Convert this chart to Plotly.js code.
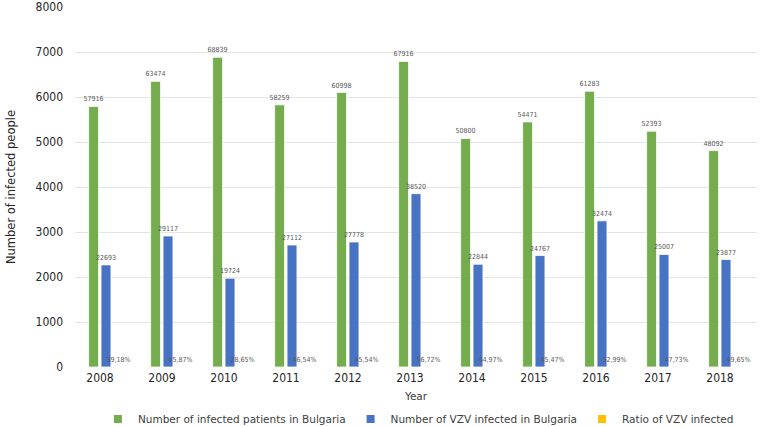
<!DOCTYPE html>
<html>
<head>
<meta charset="utf-8">
<script src="https://cdn.plot.ly/plotly-3.0.1.min.js"></script>
<style>html,body{margin:0;padding:0;background:#fff;}#chart{width:771px;height:427px;}</style>
</head>
<body>
<div id="chart"></div>
<script>
var years = ['2008','2009','2010','2011','2012','2013','2014','2015','2016','2017','2018'];
var patients = [57916, 63474, 68839, 58259, 60998, 67916, 50800, 54471, 61283, 52393, 48092];
var vzv = [22693, 29117, 19724, 27112, 27778, 38520, 22844, 24767, 32474, 25007, 23877];
var ratio = [39.18, 45.87, 28.65, 46.54, 45.54, 56.72, 44.97, 45.47, 52.99, 47.73, 49.65];
var yTicks = [0, 1000, 2000, 3000, 4000, 5000, 6000, 7000, 8000];

var COND = 'DejaVu Sans Condensed, DejaVu Sans, sans-serif';
var REG = 'DejaVu Sans, Verdana, sans-serif';
var green = '#74AC4E', blue = '#4872C3', yellow = '#FFC000';
var labelFont = {family: COND, size: 7, color: '#595959'};

function bar(name, vals, scale, color, texts) {
  return {
    type: 'bar', name: name, x: years,
    y: vals.map(function(v){ return v / scale; }),
    text: texts, textposition: 'outside', textfont: labelFont,
    constraintext: 'none', cliponaxis: false, hoverinfo: 'skip', showlegend: false,
    marker: {color: color, line: {color: '#ffffff', width: 0.8}}
  };
}
function legendItem(name, color) {
  return {type: 'scatter', mode: 'markers', name: name, x: [null], y: [null],
    marker: {symbol: 'square', size: 8, color: color}, hoverinfo: 'skip'};
}

var data = [
  bar('Number of infected patients in Bulgaria', patients, 10, green, patients.map(String)),
  bar('Number of VZV infected in Bulgaria', vzv, 10, blue, vzv.map(String)),
  bar('Ratio of VZV infected', ratio, 100, yellow, ratio.map(function(r){ return r.toFixed(2).replace('.', ',') + '%'; })),
  legendItem('Number of infected patients in Bulgaria', green),
  legendItem('Number of VZV infected in Bulgaria', blue),
  legendItem('Ratio of VZV infected', yellow)
];

var layout = {
  width: 771, height: 427,
  margin: {l: 75, r: 14, t: 7, b: 60, autoexpand: false},
  paper_bgcolor: '#ffffff', plot_bgcolor: '#ffffff',
  font: {family: REG, color: '#404040'},
  barmode: 'group', bargap: 0.4, bargroupgap: 0.2,
  showlegend: true,
  legend: {orientation: 'h', xref: 'container', yref: 'container',
    x: 0.127, xanchor: 'left', y: 0.019, yanchor: 'middle',
    font: {family: REG, size: 10.5, color: '#404040'},
    traceorder: 'normal', bgcolor: 'rgba(0,0,0,0)'},
  xaxis: {
    type: 'category', showgrid: false, zeroline: false, showline: false, ticks: '',
    tickfont: {family: COND, size: 12, color: '#262626'}, ticklabelshift: -6, ticklabelstandoff: 2,
    title: {text: 'Year', font: {family: REG, size: 10.5, color: '#404040'}, standoff: 8}
  },
  yaxis: {
    range: [0, 8000], tickvals: yTicks, ticktext: yTicks.map(String), ticklabeloverflow: 'allow',
    showgrid: true, gridcolor: '#E4E4E4', gridwidth: 1, zeroline: false, showline: false,
    tickfont: {family: COND, size: 12, color: '#262626'}, ticklabelstandoff: 11,
    title: {text: 'Number of infected people', font: {family: REG, size: 11.5, color: '#262626'}, standoff: 17}
  }
};

Plotly.newPlot('chart', data, layout, {displayModeBar: false, staticPlot: true});
</script>
</body>
</html>
